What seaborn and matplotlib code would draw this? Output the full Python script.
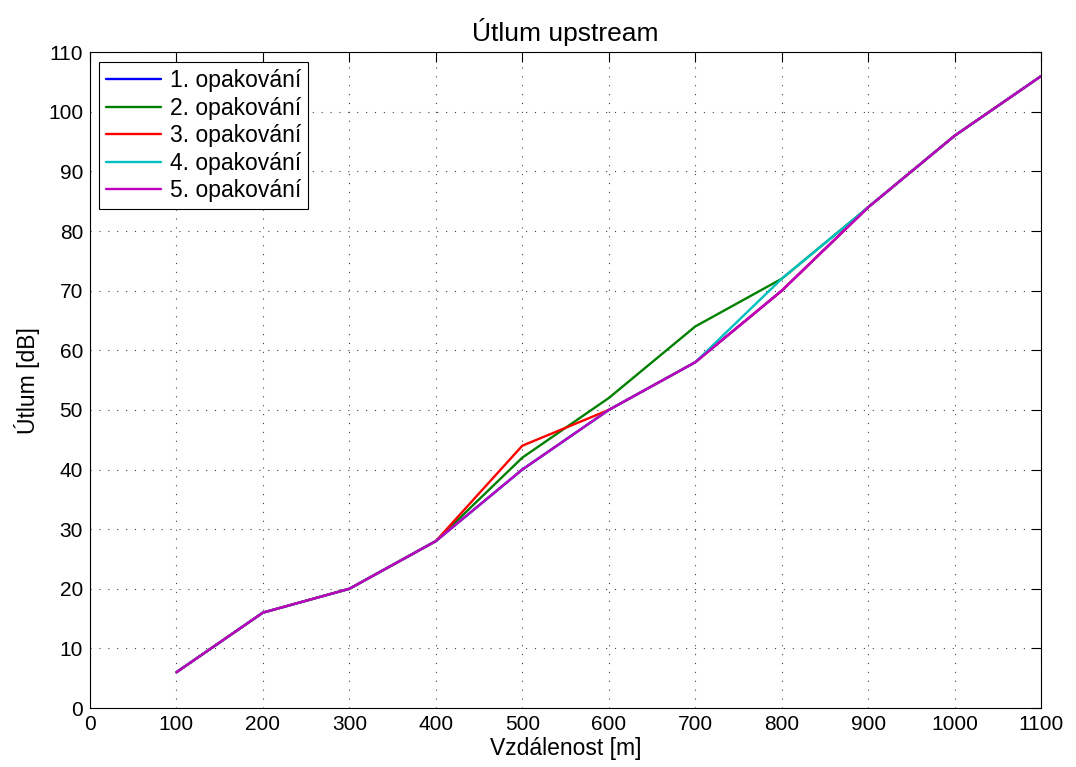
import numpy as np
import pandas as pd
import matplotlib
matplotlib.use("Agg")
import matplotlib.pyplot as plt
import seaborn as sns

# vzdalenost [m]
distance = [100, 200, 300, 400, 500, 600, 700, 800, 900, 1000, 1100]

# utlum [dB] for each repetition
rep1 = [6, 16, 20, 28, 40, 50, 58, 70, 84, 96, 106]
rep2 = [6, 16, 20, 28, 42, 52, 64, 72, 84, 96, 106]
rep3 = [6, 16, 20, 28, 44, 50, 58, 70, 84, 96, 106]
rep4 = [6, 16, 20, 28, 40, 50, 58, 72, 84, 96, 106]
rep5 = [6, 16, 20, 28, 40, 50, 58, 70, 84, 96, 106]

labels = ["1. opakování", "2. opakování", "3. opakování", "4. opakování", "5. opakování"]
colors = ["#0000ff", "#008000", "#ff0000", "#00bfbf", "#bf00bf"]

frames = []
for lab, vals in zip(labels, [rep1, rep2, rep3, rep4, rep5]):
    frames.append(pd.DataFrame({"x": distance, "y": vals, "rep": lab}))
df = pd.concat(frames, ignore_index=True)

sns.set_style("white")
plt.rcParams["font.family"] = ["Liberation Sans", "DejaVu Sans"]
plt.rcParams["text.color"] = "black"
plt.rcParams["axes.labelcolor"] = "black"

fig = plt.figure(figsize=(10.76, 7.67), dpi=100)
ax = fig.add_axes([0.0836, 0.0769, 0.884, 0.855])

sns.lineplot(data=df, x="x", y="y", hue="rep", hue_order=labels,
             palette=colors, linewidth=1.7, ax=ax, sort=False)

ax.set_xlim(0, 1100)
ax.set_ylim(0, 110)
ax.set_xticks(np.arange(0, 1101, 100))
ax.set_yticks(np.arange(0, 111, 10))
ax.grid(True, linestyle=(0, (1, 7)), color="#444444", linewidth=0.8)
ax.tick_params(direction="in", length=7, width=0.8, labelsize=15, pad=5,
               top=True, right=True, colors="black")
for s in ax.spines.values():
    s.set_color("black")
    s.set_linewidth(0.8)

ax.set_xlabel("Vzdálenost [m]", fontsize=16.5, labelpad=2)
ax.set_ylabel("Útlum [dB]", fontsize=16.5, labelpad=6)
ax.set_title("Útlum upstream", fontsize=19, pad=8)

leg = ax.legend(loc="upper left", fontsize=16.5, frameon=True, fancybox=False,
                edgecolor="black", borderpad=0.3, labelspacing=0.2,
                handlelength=2.4, handletextpad=0.4, borderaxespad=0,
                bbox_to_anchor=(0.0095, 0.985))
leg.get_frame().set_linewidth(0.8)
leg.get_frame().set_alpha(1)

fig.savefig("out.png", dpi=100)
